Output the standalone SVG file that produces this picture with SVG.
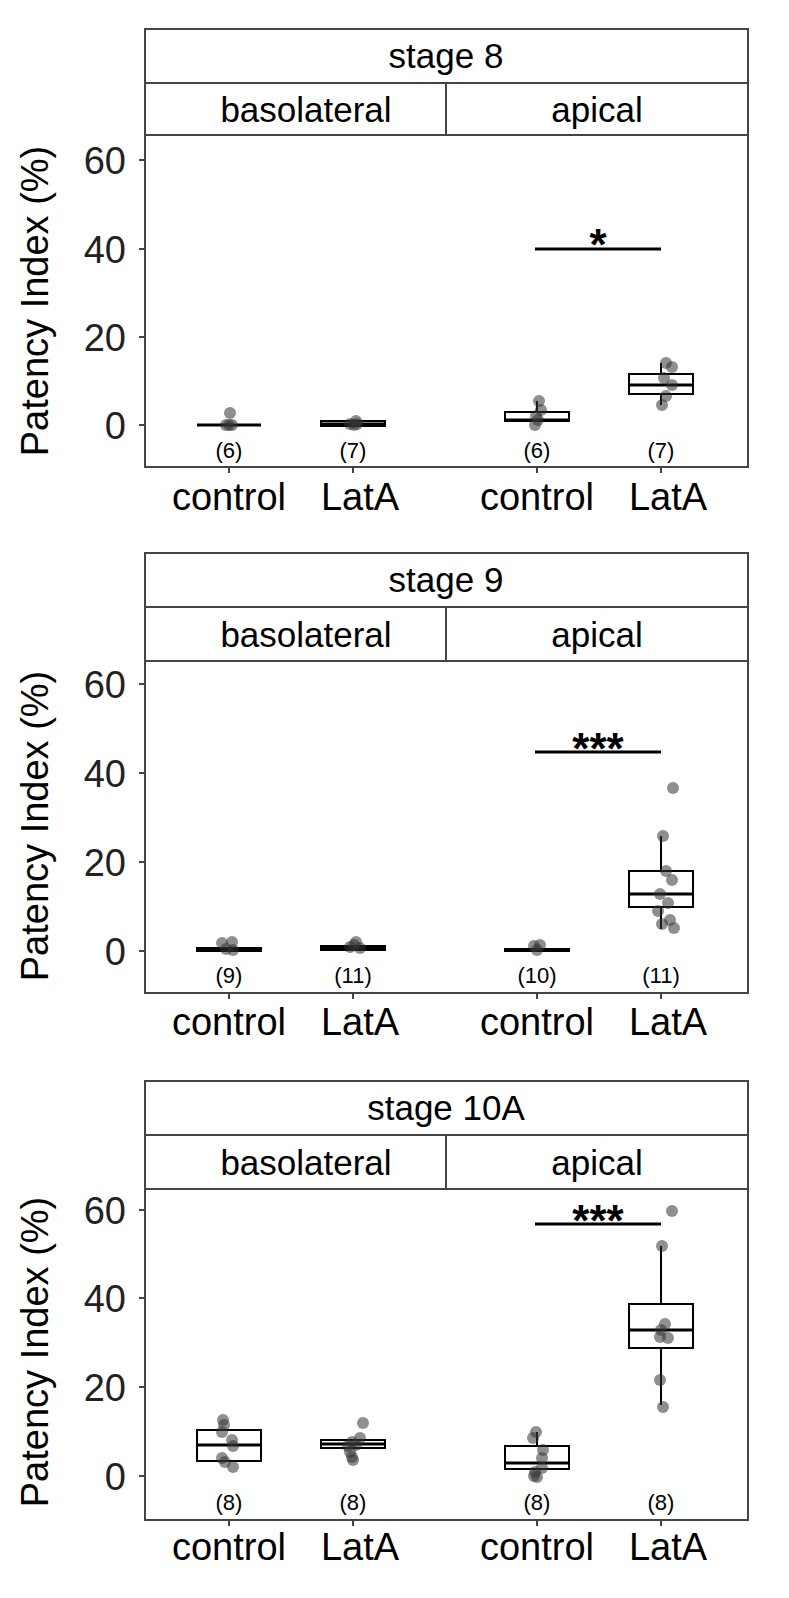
<svg xmlns="http://www.w3.org/2000/svg" width="789" height="1598" viewBox="0 0 789 1598">
<style>
text{font-family:"Liberation Sans",Arial,sans-serif;fill:#000}
.fr{fill:none;stroke:#444;stroke-width:2}
.st{fill:#fff;stroke:#444;stroke-width:2}
.ttl{font-size:35px;text-anchor:middle}
.tk{font-size:38px;text-anchor:end;fill:#222}
.xl{font-size:38px;text-anchor:middle}
.n{font-size:22px;text-anchor:middle}
.yl{font-size:38px;text-anchor:middle}
.bx{fill:#fff;stroke:#000;stroke-width:2}
.md{stroke:#000;stroke-width:3}
.wk{stroke:#000;stroke-width:2}
.pt{fill:#333;fill-opacity:0.55}
.sig{stroke:#000;stroke-width:3}
.ast{font-size:44px;font-weight:bold;text-anchor:middle}
.tic{stroke:#444;stroke-width:2}
</style>

<g id="panel-stage8">
<rect class="st" x="145" y="29" width="603" height="54"/>
<text class="ttl" x="446" y="68">stage 8</text>
<rect class="st" x="145" y="83" width="603" height="52"/>
<line class="fr" x1="446" y1="83" x2="446" y2="135"/>
<text class="ttl" x="306" y="122">basolateral</text>
<text class="ttl" x="597" y="122">apical</text>
<rect class="fr" x="145" y="135" width="603" height="332"/>
<g class="tic"><line x1="139" y1="160" x2="145" y2="160"/><line x1="139" y1="249" x2="145" y2="249"/><line x1="139" y1="337" x2="145" y2="337"/><line x1="139" y1="425" x2="145" y2="425"/>
<line x1="229" y1="467" x2="229" y2="473"/><line x1="353" y1="467" x2="353" y2="473"/><line x1="537" y1="467" x2="537" y2="473"/><line x1="661" y1="467" x2="661" y2="473"/></g>
<text class="tk" x="126" y="174">60</text><text class="tk" x="126" y="263">40</text><text class="tk" x="126" y="351">20</text><text class="tk" x="126" y="439">0</text>
<text class="yl" transform="translate(48,301) rotate(-90)">Patency Index (%)</text>
<text class="xl" x="229" y="510">control</text><text class="xl" x="360" y="510">LatA</text><text class="xl" x="537" y="510">control</text><text class="xl" x="668" y="510">LatA</text>
<text class="n" x="229" y="458">(6)</text><text class="n" x="353" y="458">(7)</text><text class="n" x="537" y="458">(6)</text><text class="n" x="661" y="458">(7)</text>
<line class="md" x1="197" y1="425" x2="261" y2="425"/>
<circle class="pt" cx="230" cy="413" r="6"/><circle class="pt" cx="226" cy="425" r="6"/><circle class="pt" cx="232" cy="425" r="6"/><circle class="pt" cx="229" cy="425" r="6"/>
<rect class="bx" x="321" y="421" width="64" height="5"/>
<line class="md" x1="321" y1="424" x2="385" y2="424"/>
<circle class="pt" cx="356" cy="421" r="6"/><circle class="pt" cx="350" cy="424" r="6"/><circle class="pt" cx="354" cy="425" r="6"/><circle class="pt" cx="357" cy="424" r="6"/>
<line class="wk" x1="537" y1="401" x2="537" y2="412"/>
<rect class="bx" x="505" y="412" width="64" height="9"/>
<line class="md" x1="505" y1="420" x2="569" y2="420"/>
<circle class="pt" cx="539" cy="401" r="6"/><circle class="pt" cx="541" cy="410" r="6"/><circle class="pt" cx="536" cy="416" r="6"/><circle class="pt" cx="538" cy="420" r="6"/><circle class="pt" cx="535" cy="425" r="6"/>
<line class="wk" x1="661" y1="363" x2="661" y2="374"/><line class="wk" x1="661" y1="394" x2="661" y2="405"/>
<rect class="bx" x="629" y="374" width="64" height="20"/>
<line class="md" x1="629" y1="385" x2="693" y2="385"/>
<circle class="pt" cx="666" cy="363" r="6"/><circle class="pt" cx="672" cy="367" r="6"/><circle class="pt" cx="664" cy="378" r="6"/><circle class="pt" cx="672" cy="385" r="6"/><circle class="pt" cx="666" cy="396" r="6"/><circle class="pt" cx="662" cy="405" r="6"/>
<line class="sig" x1="535" y1="249" x2="661" y2="249"/>
<text class="ast" x="598" y="260">*</text>
</g>

<g id="panel-stage9">
<rect class="st" x="145" y="553" width="603" height="54"/>
<text class="ttl" x="446" y="592">stage 9</text>
<rect class="st" x="145" y="607" width="603" height="54"/>
<line class="fr" x1="446" y1="607" x2="446" y2="661"/>
<text class="ttl" x="306" y="647">basolateral</text>
<text class="ttl" x="597" y="647">apical</text>
<rect class="fr" x="145" y="661" width="603" height="332"/>
<g class="tic"><line x1="139" y1="684" x2="145" y2="684"/><line x1="139" y1="773" x2="145" y2="773"/><line x1="139" y1="862" x2="145" y2="862"/><line x1="139" y1="951" x2="145" y2="951"/>
<line x1="229" y1="993" x2="229" y2="999"/><line x1="353" y1="993" x2="353" y2="999"/><line x1="537" y1="993" x2="537" y2="999"/><line x1="661" y1="993" x2="661" y2="999"/></g>
<text class="tk" x="126" y="698">60</text><text class="tk" x="126" y="787">40</text><text class="tk" x="126" y="876">20</text><text class="tk" x="126" y="965">0</text>
<text class="yl" transform="translate(48,826) rotate(-90)">Patency Index (%)</text>
<text class="xl" x="229" y="1035">control</text><text class="xl" x="360" y="1035">LatA</text><text class="xl" x="537" y="1035">control</text><text class="xl" x="668" y="1035">LatA</text>
<text class="n" x="229" y="983">(9)</text><text class="n" x="353" y="983">(11)</text><text class="n" x="537" y="983">(10)</text><text class="n" x="661" y="983">(11)</text>
<rect class="bx" x="197" y="948" width="64" height="3"/>
<line class="md" x1="197" y1="949" x2="261" y2="949"/>
<circle class="pt" cx="222" cy="943" r="6"/><circle class="pt" cx="232" cy="942" r="6"/><circle class="pt" cx="226" cy="949" r="6"/><circle class="pt" cx="233" cy="950" r="6"/>
<rect class="bx" x="321" y="946" width="64" height="4"/>
<line class="md" x1="321" y1="948" x2="385" y2="948"/>
<circle class="pt" cx="356" cy="942" r="6"/><circle class="pt" cx="350" cy="947" r="6"/><circle class="pt" cx="360" cy="948" r="6"/><circle class="pt" cx="354" cy="945" r="6"/>
<rect class="bx" x="505" y="949" width="64" height="2"/>
<line class="md" x1="505" y1="950" x2="569" y2="950"/>
<circle class="pt" cx="534" cy="946" r="6"/><circle class="pt" cx="540" cy="945" r="6"/><circle class="pt" cx="537" cy="950" r="6"/>
<line class="wk" x1="661" y1="836" x2="661" y2="871"/><line class="wk" x1="661" y1="907" x2="661" y2="929"/>
<rect class="bx" x="629" y="871" width="64" height="36"/>
<line class="md" x1="629" y1="894" x2="693" y2="894"/>
<circle class="pt" cx="673" cy="788" r="6"/><circle class="pt" cx="663" cy="836" r="6"/><circle class="pt" cx="666" cy="871" r="6"/><circle class="pt" cx="672" cy="880" r="6"/><circle class="pt" cx="660" cy="894" r="6"/><circle class="pt" cx="668" cy="903" r="6"/><circle class="pt" cx="658" cy="911" r="6"/><circle class="pt" cx="670" cy="920" r="6"/><circle class="pt" cx="662" cy="924" r="6"/><circle class="pt" cx="674" cy="928" r="6"/>
<line class="sig" x1="535" y1="752" x2="661" y2="752"/>
<text class="ast" x="598" y="764">***</text>
</g>

<g id="panel-stage10A">
<rect class="st" x="145" y="1081" width="603" height="54"/>
<text class="ttl" x="446" y="1120">stage 10A</text>
<rect class="st" x="145" y="1135" width="603" height="54"/>
<line class="fr" x1="446" y1="1135" x2="446" y2="1189"/>
<text class="ttl" x="306" y="1175">basolateral</text>
<text class="ttl" x="597" y="1175">apical</text>
<rect class="fr" x="145" y="1189" width="603" height="331"/>
<g class="tic"><line x1="139" y1="1210" x2="145" y2="1210"/><line x1="139" y1="1298" x2="145" y2="1298"/><line x1="139" y1="1387" x2="145" y2="1387"/><line x1="139" y1="1476" x2="145" y2="1476"/>
<line x1="229" y1="1520" x2="229" y2="1526"/><line x1="353" y1="1520" x2="353" y2="1526"/><line x1="537" y1="1520" x2="537" y2="1526"/><line x1="661" y1="1520" x2="661" y2="1526"/></g>
<text class="tk" x="126" y="1224">60</text><text class="tk" x="126" y="1312">40</text><text class="tk" x="126" y="1401">20</text><text class="tk" x="126" y="1490">0</text>
<text class="yl" transform="translate(48,1352) rotate(-90)">Patency Index (%)</text>
<text class="xl" x="229" y="1560">control</text><text class="xl" x="360" y="1560">LatA</text><text class="xl" x="537" y="1560">control</text><text class="xl" x="668" y="1560">LatA</text>
<text class="n" x="229" y="1510">(8)</text><text class="n" x="353" y="1510">(8)</text><text class="n" x="537" y="1510">(8)</text><text class="n" x="661" y="1510">(8)</text>
<rect class="bx" x="197" y="1430" width="64" height="31"/>
<line class="md" x1="197" y1="1445" x2="261" y2="1445"/>
<circle class="pt" cx="223" cy="1420" r="6"/><circle class="pt" cx="224" cy="1425" r="6"/><circle class="pt" cx="222" cy="1432" r="6"/><circle class="pt" cx="232" cy="1440" r="6"/><circle class="pt" cx="233" cy="1446" r="6"/><circle class="pt" cx="222" cy="1458" r="6"/><circle class="pt" cx="225" cy="1462" r="6"/><circle class="pt" cx="233" cy="1467" r="6"/>
<rect class="bx" x="321" y="1440" width="64" height="8"/>
<line class="md" x1="321" y1="1444" x2="385" y2="1444"/>
<circle class="pt" cx="363" cy="1423" r="6"/><circle class="pt" cx="360" cy="1438" r="6"/><circle class="pt" cx="352" cy="1442" r="6"/><circle class="pt" cx="356" cy="1445" r="6"/><circle class="pt" cx="348" cy="1446" r="6"/><circle class="pt" cx="350" cy="1452" r="6"/><circle class="pt" cx="352" cy="1457" r="6"/><circle class="pt" cx="353" cy="1460" r="6"/>
<line class="wk" x1="537" y1="1432" x2="537" y2="1446"/>
<rect class="bx" x="505" y="1446" width="64" height="23"/>
<line class="md" x1="505" y1="1463" x2="569" y2="1463"/>
<circle class="pt" cx="536" cy="1432" r="6"/><circle class="pt" cx="533" cy="1438" r="6"/><circle class="pt" cx="543" cy="1450" r="6"/><circle class="pt" cx="542" cy="1458" r="6"/><circle class="pt" cx="542" cy="1468" r="6"/><circle class="pt" cx="535" cy="1472" r="6"/><circle class="pt" cx="534" cy="1476" r="6"/><circle class="pt" cx="537" cy="1477" r="6"/>
<line class="wk" x1="661" y1="1246" x2="661" y2="1304"/><line class="wk" x1="661" y1="1348" x2="661" y2="1405"/>
<rect class="bx" x="629" y="1304" width="64" height="44"/>
<line class="md" x1="629" y1="1330" x2="693" y2="1330"/>
<circle class="pt" cx="672" cy="1211" r="6"/><circle class="pt" cx="662" cy="1246" r="6"/><circle class="pt" cx="665" cy="1324" r="6"/><circle class="pt" cx="661" cy="1330" r="6"/><circle class="pt" cx="660" cy="1337" r="6"/><circle class="pt" cx="668" cy="1338" r="6"/><circle class="pt" cx="660" cy="1380" r="6"/><circle class="pt" cx="663" cy="1407" r="6"/>
<line class="sig" x1="535" y1="1224" x2="661" y2="1224"/>
<text class="ast" x="598" y="1236">***</text>
</g>
</svg>
